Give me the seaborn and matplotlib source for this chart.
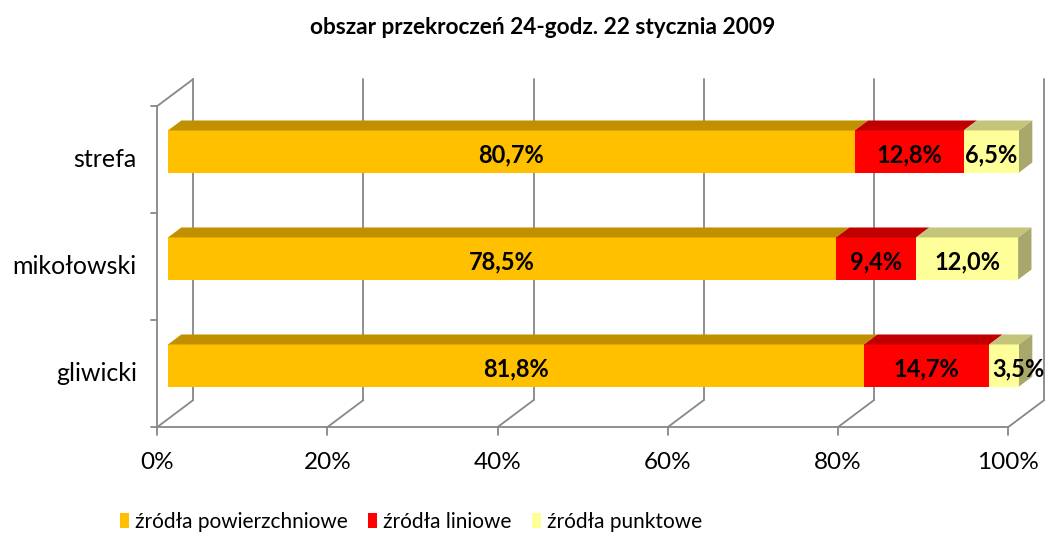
import numpy as np
import pandas as pd
import matplotlib
matplotlib.use("Agg")
import matplotlib.pyplot as plt
from matplotlib.patches import Polygon, Patch
import seaborn as sns

# data (shares in %)
kategorie = ["strefa", "mikołowski", "gliwicki"]
powierzchniowe = [80.7, 78.5, 81.8]
liniowe = [12.8, 9.4, 14.7]
punktowe = [6.5, 12.0, 3.5]
serie = ["źródła powierzchniowe", "źródła liniowe", "źródła punktowe"]
kolory = ["#FFC000", "#FF0000", "#FFFF99"]
kolory_gora = ["#C09000", "#C00000", "#C4C47A"]
kolor_bok = "#A8A86C"
ticks_x = [0, 20, 40, 60, 80, 100]

sns.set_style("white")
plt.rcParams["font.family"] = ["Lato", "DejaVu Sans"]
plt.rcParams["text.color"] = "black"

fig = plt.figure(figsize=(10.47, 5.33), dpi=100)
ax = fig.add_axes([140/1047, (533-445)/533, 905/1047, 385/533])

# 3d look: depth offsets in data units (x in %, y in category units)
px_x = 8.51          # pixels per 1%
px_y = 107.0         # pixels per category
DX, DY = 36/px_x, 27/px_y   # full depth of the box
z_front = 0.3        # depth of bar front face
bar_d = 0.37         # depth of bars
w = 0.393

def p(x, y, z):
    return (x + DX*(z - z_front), y - DY*(z - z_front))

grid_c = "#878787"
lw = 1.3
# back wall gridlines + floor diagonals
for t in ticks_x:
    x0, y0 = p(t, 2.5, 1)
    x1, y1 = p(t, -0.5, 1)
    ax.plot([x0, x1], [y0, y1], color=grid_c, lw=lw, zorder=1, clip_on=False)
    fx, fy = p(t, 2.5, 0)
    ax.plot([fx, x0], [fy, y0], color=grid_c, lw=lw, zorder=1, clip_on=False)
    ax.plot([fx, fx], [fy, fy + 0.075], color=grid_c, lw=lw, zorder=1, clip_on=False)
    ax.text(fx, fy + 0.33, f"{t}%", ha="center", va="center", fontsize=17.5)
# floor front line
a = p(0, 2.5, 0); b = p(100, 2.5, 0)
ax.plot([a[0], b[0]], [a[1], b[1]], color=grid_c, lw=lw, zorder=1, clip_on=False)
# left wall front axis and top edge
a = p(0, -0.5, 0); b = p(0, 2.5, 0); c = p(0, -0.5, 1)
ax.plot([a[0], b[0]], [a[1], b[1]], color=grid_c, lw=lw, zorder=1, clip_on=False)
ax.plot([a[0], c[0]], [a[1], c[1]], color=grid_c, lw=lw, zorder=1, clip_on=False)
for yy in [-0.5, 0.5, 1.5, 2.5]:
    q = p(0, yy, 0)
    ax.plot([q[0] - 0.7, q[0]], [q[1], q[1]], color=grid_c, lw=lw, zorder=1, clip_on=False)
for i, k in enumerate(kategorie):
    q = p(0, i, 0)
    ax.text(q[0] - 2.4, q[1], k, ha="right", va="center", fontsize=18)

# front faces with seaborn (cumulative overlap)
df = pd.DataFrame({"kategoria": kategorie, "s1": powierzchniowe,
                   "s2": liniowe, "s3": punktowe})
df["c1"] = df["s1"]
df["c2"] = df["s1"] + df["s2"]
df["c3"] = df["c2"] + df["s3"]
for col, kol, zo in [("c3", kolory[2], 3), ("c2", kolory[1], 4), ("c1", kolory[0], 5)]:
    sns.barplot(data=df, x=col, y="kategoria", order=kategorie, orient="y",
                color=kol, saturation=1, width=w, errorbar=None,
                edgecolor="none", zorder=zo, ax=ax)

# top and side faces
for i in range(len(kategorie)):
    vals = [df["s1"][i], df["s2"][i], df["s3"][i]]
    left = 0
    yt = i - w/2
    yb = i + w/2
    for j, v in enumerate(vals):
        right = left + v
        pts = [p(left, yt, z_front), p(right, yt, z_front),
               p(right, yt, z_front + bar_d), p(left, yt, z_front + bar_d)]
        ax.add_patch(Polygon(pts, closed=True, fc=kolory_gora[j], ec="none", zorder=6))
        # label
        txt = f"{v:.1f}%".replace(".", ",")
        if v < 5:
            ax.text(left + 0.4, i + 0.03, txt, ha="left", va="center",
                    fontsize=17, fontweight="bold", zorder=8)
        else:
            ax.text(left + v/2, i + 0.03, txt, ha="center", va="center",
                    fontsize=17, fontweight="bold", zorder=8)
        left = right
    pts = [p(left, yt, z_front), p(left, yb, z_front),
           p(left, yb, z_front + bar_d), p(left, yt, z_front + bar_d)]
    ax.add_patch(Polygon(pts, closed=True, fc=kolor_bok, ec="none", zorder=6))

ax.set_xlim(-28/px_x, 877/px_x)
ax.set_ylim((445-151.5)/px_y, (60-151.5)/px_y)
ax.axis("off")

fig.text(0.518, 1 - 28/533, "obszar przekroczeń 24-godz. 22 stycznia 2009",
         ha="center", va="center", fontsize=16.3, fontweight="bold")

uchwyty = [Patch(facecolor=c, edgecolor="none") for c in kolory]
fig.legend(uchwyty, serie, loc="center", bbox_to_anchor=(411/1047, 1 - 522/533),
           ncol=3, frameon=False, fontsize=15, handlelength=0.43, handleheight=0.7,
           handletextpad=0.28, columnspacing=1.0, borderaxespad=0, borderpad=0)

fig.savefig("out.png", dpi=100)
